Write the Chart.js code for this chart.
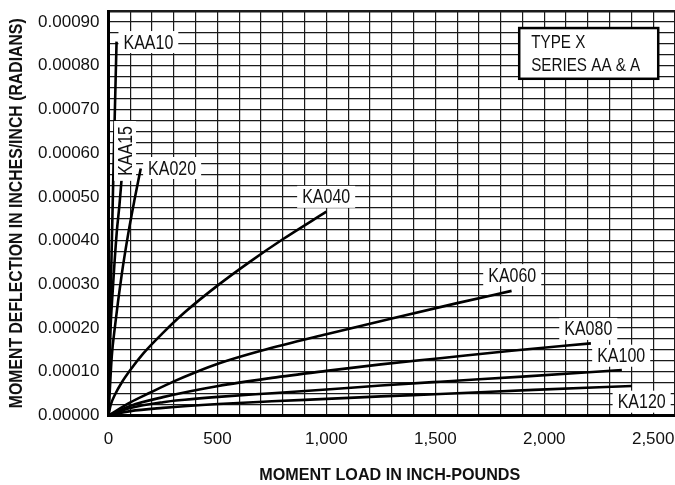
<!DOCTYPE html>
<html>
<head>
<meta charset="utf-8">
<script src="https://cdn.jsdelivr.net/npm/chart.js@4"></script>
<style>
  html, body { margin: 0; padding: 0; background: #fff; }
  canvas { display: block; }
</style>
</head>
<body>
<canvas id="chart" width="675" height="485"></canvas>
<script>
// Moment load (inch-pounds) against moment deflection (radians) per model
const KAA10 = [[0, 0], [5, 0.00015], [12, 0.00032], [24, 0.00059], [37, 0.000855]];
const KAA15 = [[0, 0], [8, 0.00018], [20, 0.00029], [38, 0.00042], [50, 0.00048], [60, 0.00054]];
const KA020 = [[0, 0], [15, 0.000135], [30, 0.000205], [60, 0.00032], [91, 0.000417], [120, 0.000495], [148, 0.000565]];
const KA040 = [[0, 0], [10, 0.000024], [30, 0.000048], [60, 0.000075], [100, 0.000104], [160, 0.000142], [250, 0.000189], [350, 0.000236], [500, 0.000297], [650, 0.000352], [800, 0.000403], [1000, 0.000466]];
const KA060 = [[0, 0], [100, 0.000030], [190, 0.000052], [300, 0.000078], [400, 0.000099], [512, 0.000120], [700, 0.000148], [1000, 0.000186], [1300, 0.000222], [1600, 0.000257], [1850, 0.000285]];
const KA080 = [[0, 0], [100, 0.000022], [250, 0.000042], [504, 0.0000675], [750, 0.000086], [1000, 0.000102], [1250, 0.000117], [1522, 0.000131], [1850, 0.000148], [2214, 0.000165]];
const KA100 = [[0, 0], [100, 0.000017], [250, 0.0000305], [350, 0.000036], [504, 0.0000425], [750, 0.000051], [1000, 0.0000595], [1250, 0.0000685], [1522, 0.0000773], [1900, 0.000089], [2356, 0.000104]];
const KA120 = [[0, 0], [100, 0.000010], [250, 0.0000175], [504, 0.0000263], [750, 0.0000325], [1000, 0.000038], [1250, 0.0000437], [1522, 0.0000492], [1950, 0.0000585], [2402, 0.0000675]];

const seriesNames = ['KAA10', 'KAA15', 'KA020', 'KA040', 'KA060', 'KA080', 'KA100', 'KA120'];
const seriesValues = [KAA10, KAA15, KA020, KA040, KA060, KA080, KA100, KA120];

// Curve name tags: [text, load, deflection, vertical?]
const curveTags = [
  ['KAA10', 183, 0.000854, false],
  ['KAA15', 76, 0.000605, true],
  ['KA020', 292, 0.000566, false],
  ['KA040', 999, 0.000500, false],
  ['KA060', 1853, 0.000321, false],
  ['KA080', 2202, 0.000198, false],
  ['KA100', 2353, 0.0001367, false],
  ['KA120', 2447, 0.0000316, false]
];

const boxLines = ['TYPE X', 'SERIES AA & A'];
const xTitle = 'MOMENT LOAD IN INCH-POUNDS';
const yTitle = 'MOMENT DEFLECTION IN INCHES/INCH (RADIANS)';

const xLabelStep = 500;          // labelled load ticks
const yLabelStep = 0.0001;       // labelled deflection ticks
const xMax = 2600;
const yMax = 0.000925;

const FAMILY = '"Liberation Sans", Arial, sans-serif';

const datasets = seriesNames.map((name, i) => ({
  label: name,
  data: seriesValues[i].map(p => ({ x: p[0], y: p[1] })),
  borderColor: '#000',
  borderWidth: 2.6,
  pointRadius: 0,
  fill: false,
  showLine: true,
  cubicInterpolationMode: 'monotone'
}));

// Condensed text: draw with a horizontal squeeze around (x, y)
function squeezedText(ctx, text, x, y, squeeze, align) {
  ctx.save();
  ctx.translate(x, y);
  ctx.scale(squeeze, 1);
  ctx.textAlign = align;
  ctx.fillText(text, 0, 0);
  ctx.restore();
}

const annotatePlugin = {
  id: 'annotate',
  afterDatasetsDraw(chart) {
    const { ctx, scales: { x, y }, chartArea } = chart;
    ctx.save();
    ctx.textBaseline = 'middle';

    // curve name tags on white patches
    ctx.font = '20px ' + FAMILY;
    const sq = 0.8;
    curveTags.forEach(([text, lx, ly, vertical]) => {
      const px = x.getPixelForValue(lx);
      const py = y.getPixelForValue(ly);
      const w = ctx.measureText(text).width * sq + 10;
      const h = 22;
      ctx.save();
      ctx.translate(px, py);
      if (vertical) ctx.rotate(-Math.PI / 2);
      ctx.fillStyle = '#fff';
      ctx.fillRect(-w / 2, -h / 2, w, h);
      ctx.fillStyle = '#111';
      squeezedText(ctx, text, 0, 1, sq, 'center');
      ctx.restore();
    });

    // type / series box in the upper right
    const bx0 = x.getPixelForValue(1885), bx1 = x.getPixelForValue(2523);
    const by0 = y.getPixelForValue(0.000886), by1 = y.getPixelForValue(0.000770);
    ctx.fillStyle = '#fff';
    ctx.fillRect(bx0, by0, bx1 - bx0, by1 - by0);
    ctx.lineWidth = 2.5;
    ctx.strokeStyle = '#000';
    ctx.strokeRect(bx0, by0, bx1 - bx0, by1 - by0);
    ctx.fillStyle = '#111';
    ctx.font = '17.7px ' + FAMILY;
    squeezedText(ctx, boxLines[0], bx0 + 12, by0 + 15.5, 0.86, 'left');
    squeezedText(ctx, boxLines[1], bx0 + 12, by0 + 38.5, 0.86, 'left');

    // axis titles
    ctx.font = 'bold 17px ' + FAMILY;
    squeezedText(ctx, xTitle, (chartArea.left + chartArea.right) / 2 - 2, 475.5, 0.95, 'center');
    ctx.save();
    ctx.translate(16.5, (chartArea.top + chartArea.bottom) / 2);
    ctx.rotate(-Math.PI / 2);
    ctx.font = 'bold 18.6px ' + FAMILY;
    squeezedText(ctx, yTitle, 0, 0, 0.85, 'center');
    ctx.restore();
    ctx.restore();
  }
};

const isMultiple = (v, step) => Math.abs(v / step - Math.round(v / step)) < 1e-6;

function zeroPadding(scale) {
  scale.paddingLeft = 0;
  scale.paddingRight = 0;
  scale.paddingTop = 0;
  scale.paddingBottom = 0;
}

new Chart(document.getElementById('chart'), {
  type: 'scatter',
  data: { datasets },
  plugins: [annotatePlugin],
  options: {
    responsive: false,
    devicePixelRatio: 1,
    animation: false,
    layout: { padding: { top: 11, right: 0, left: 0, bottom: 0 } },
    plugins: { legend: { display: false }, tooltip: { enabled: false } },
    scales: {
      x: {
        type: 'linear',
        min: 0,
        max: xMax,
        afterFit(scale) { scale.height = 69.5; zeroPadding(scale); },
        ticks: {
          stepSize: 100,
          autoSkip: false,
          maxRotation: 0,
          padding: 14,
          color: '#111',
          font: { family: FAMILY, size: 17 },
          callback: v => isMultiple(v, xLabelStep) ? v.toLocaleString('en-US') : ''
        },
        grid: {
          drawTicks: false,
          color: '#1a1a1a',
          lineWidth: c => (c.tick && c.tick.value === 0) ? 3 : 1.2
        },
        border: { display: true, color: '#000', width: 3 },
        title: { display: false }
      },
      y: {
        type: 'linear',
        min: 0,
        max: yMax,
        afterFit(scale) { scale.width = 108.5; zeroPadding(scale); },
        ticks: {
          stepSize: 0.000025,
          autoSkip: false,
          padding: 9,
          color: '#111',
          font: { family: FAMILY, size: 17 },
          callback: v => isMultiple(v, yLabelStep) ? v.toFixed(5) : ''
        },
        grid: {
          drawTicks: false,
          color: '#1a1a1a',
          lineWidth: c => {
            if (!c.tick) return 1.2;
            if (Math.abs(c.tick.value - yMax) < 1e-9) return 2.5;
            if (c.tick.value === 0) return 3;
            return 1.2;
          }
        },
        border: { display: true, color: '#000', width: 3 },
        title: { display: false }
      }
    }
  }
});
</script>
</body>
</html>
